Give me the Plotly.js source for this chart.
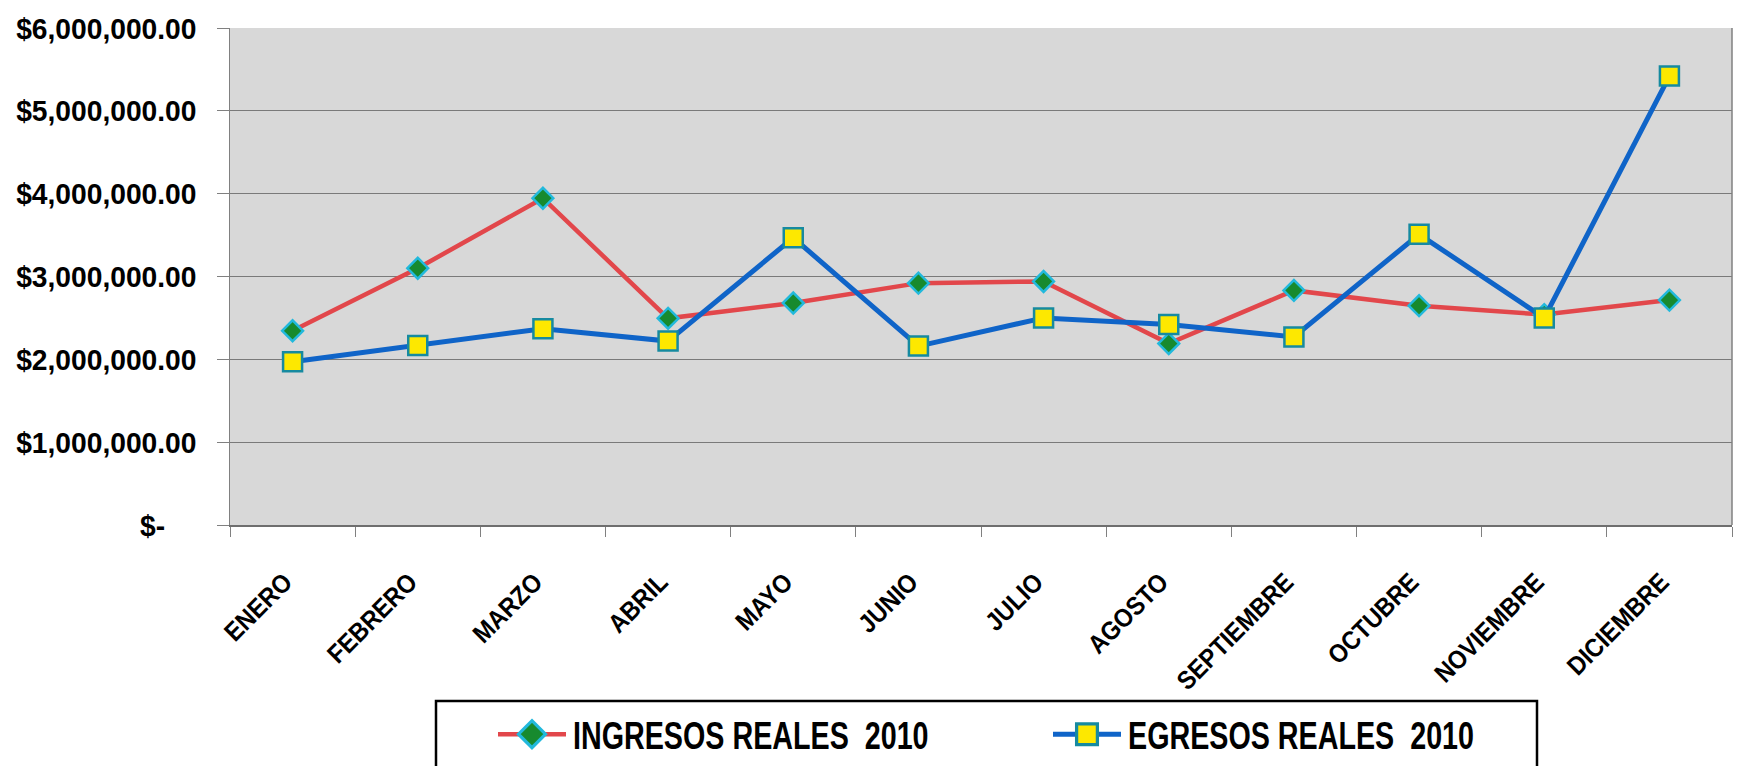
<!DOCTYPE html>
<html>
<head>
<meta charset="utf-8">
<script src="https://cdn.plot.ly/plotly-3.0.1.min.js"></script>
<style>html,body{margin:0;padding:0;background:#fff;}#chart{width:1741px;height:766px;}</style>
</head>
<body>
<div id="chart"></div>
<script>
var months = ["ENERO","FEBRERO","MARZO","ABRIL","MAYO","JUNIO","JULIO","AGOSTO","SEPTIEMBRE","OCTUBRE","NOVIEMBRE","DICIEMBRE"];
var ingresos = [2345000, 3100000, 3945000, 2495000, 2680000, 2920000, 2940000, 2190000, 2832000, 2648000, 2540000, 2715000];
var egresos  = [1970000, 2168000, 2370000, 2220000, 3468000, 2160000, 2500000, 2420000, 2270000, 3509000, 2500000, 5420000];
var yTickVals = [0, 1000000, 2000000, 3000000, 4000000, 5000000, 6000000];
var yTickText = ["$-\u00a0\u00a0\u00a0\u00a0", "$1,000,000.00", "$2,000,000.00", "$3,000,000.00", "$4,000,000.00", "$5,000,000.00", "$6,000,000.00"];
var seriesNames = ["INGRESOS REALES \u00a02010", "EGRESOS REALES \u00a02010"];

var FONT = "'Liberation Sans', Arial, sans-serif";

var W = 1741, H = 766, ML = 230, MR = 9, MT = 28, MB = 241;
var PW = W - ML - MR, PH = H - MT - MB;
function px(x) { return (x - ML) / PW; }
function py(y) { return (H - MB - y) / PH; }

var traces = [
  {
    x: months, y: ingresos, name: seriesNames[0], type: "scatter", mode: "lines+markers",
    line: {color: "#e2474b", width: 4.5},
    marker: {symbol: "diamond", size: 16, color: "#178a2e", line: {color: "#22b9dc", width: 2.5}}
  },
  {
    x: months, y: egresos, name: seriesNames[1], type: "scatter", mode: "lines+markers",
    line: {color: "#0f64c8", width: 5},
    marker: {symbol: "square", size: 19, color: "#fde800", line: {color: "#168aa0", width: 2.5}}
  }
];

var layout = {
  width: W, height: H,
  margin: {l: ML, r: MR, t: MT, b: MB, autoexpand: false},
  paper_bgcolor: "#ffffff",
  plot_bgcolor: "#d8d8d8",
  font: {family: FONT, color: "#000"},
  showlegend: true,
  xaxis: {
    type: "category",
    range: [-0.5, 11.5],
    tickson: "boundaries",
    ticks: "outside", ticklen: 10, tickcolor: "#808080", tickwidth: 1,
    tickangle: -45,
    tickfont: {family: FONT, size: 26, color: "#000", weight: "bold"},
    ticklabelstandoff: 26,
    showgrid: false,
    showline: true, linecolor: "#6e6e6e", linewidth: 1.5, mirror: false,
    zeroline: false, fixedrange: true
  },
  yaxis: {
    range: [0, 6000000],
    tickvals: yTickVals, ticktext: yTickText,
    ticks: "outside", ticklen: 12, tickcolor: "#808080", tickwidth: 1,
    tickfont: {family: FONT, size: 30, color: "#000", weight: "bold"},
    ticklabelstandoff: 14,
    showgrid: true, gridcolor: "#7a7a7a", gridwidth: 1,
    showline: true, linecolor: "#808080", linewidth: 1.5,
    zeroline: false, fixedrange: true
  },
  shapes: [
    {type: "line", xref: "paper", yref: "paper", x0: 1, x1: 1, y0: 0, y1: 1, line: {color: "#808080", width: 1.5}},
    {type: "rect", xref: "paper", yref: "paper", x0: px(436), x1: px(1537), y0: py(701), y1: py(800),
     line: {color: "#000000", width: 2.5}, fillcolor: "rgba(0,0,0,0)", layer: "above"}
  ],
  legend: {
    orientation: "h",
    x: px(493), xanchor: "left",
    y: py(703), yanchor: "top",
    bgcolor: "rgba(0,0,0,0)",
    borderwidth: 0,
    font: {family: FONT, size: 38, color: "#000", weight: "bold"},
    entrywidth: 470, entrywidthmode: "pixels",
    itemwidth: 70,
    itemsizing: "trace"
  }
};

function condense(root, selector, factor) {
  root.querySelectorAll(selector).forEach(function (t) {
    var len = t.getComputedTextLength();
    if (len > 0) {
      t.setAttribute("textLength", (len * factor).toFixed(2));
      t.setAttribute("lengthAdjust", "spacingAndGlyphs");
    }
  });
}

var gd = document.getElementById("chart");
Plotly.newPlot(gd, traces, layout, {staticPlot: true, displayModeBar: false}).then(function () {
  condense(gd, ".xtick text", 0.9);
  condense(gd, ".ytick text", 0.94);
  condense(gd, "text.legendtext", 0.755);
  gd.querySelectorAll(".xtick text").forEach(function (t) {
    var tr = t.getAttribute("transform") || "";
    t.setAttribute("transform", "translate(-8,4) " + tr);
  });
  gd.querySelectorAll(".legendlines path").forEach(function (p) { p.setAttribute("d", "M5,0h68"); });
  gd.querySelectorAll(".legendsymbols path").forEach(function (p) { p.setAttribute("transform", "translate(39,0) scale(1.3)"); });
});
</script>
</body>
</html>
